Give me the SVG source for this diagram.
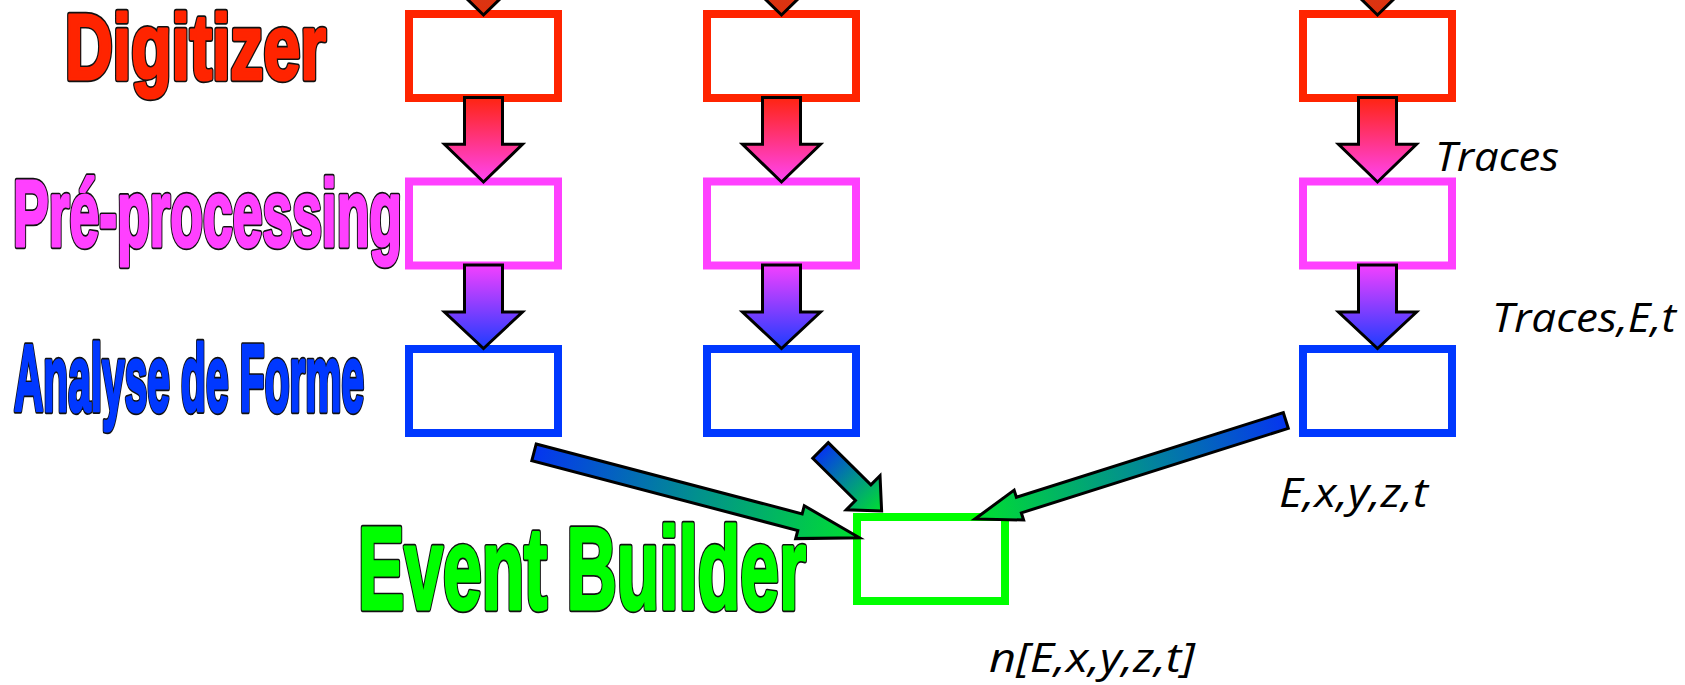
<svg xmlns="http://www.w3.org/2000/svg" width="1685" height="685" viewBox="0 0 1685 685">
  <defs>
    <style>
      .box { fill: #ffffff; stroke-width: 8; }
      .red { stroke: #ff2400; }
      .pink { stroke: #ff40ff; }
      .blue { stroke: #0038ff; }
      .green { stroke: #00ff00; }
      .arrow { stroke: #000000; stroke-width: 3; stroke-linejoin: miter; }
      .title { font-family: "Liberation Sans", Arial, sans-serif; font-weight: bold; stroke-linejoin: round; }
      .title .ol { fill: #111111; stroke: #111111; stroke-width: 6.5; }
      .title .fc { stroke-width: 3.2; }
      .note { font-family: "Open Sans", "Noto Sans", sans-serif; font-style: italic; font-size: 41px; fill: #000000; }
    </style>
    <linearGradient id="gTop" x1="0" y1="0" x2="0" y2="1">
      <stop offset="0" stop-color="#b84a30"/>
      <stop offset="1" stop-color="#e2300c"/>
    </linearGradient>
    <linearGradient id="gRedPink" x1="0" y1="0" x2="0" y2="1">
      <stop offset="0" stop-color="#ff2410"/>
      <stop offset="1" stop-color="#ff44f4"/>
    </linearGradient>
    <linearGradient id="gPinkBlue" x1="0" y1="0" x2="0" y2="1">
      <stop offset="0" stop-color="#f440ff"/>
      <stop offset="1" stop-color="#1c3cff"/>
    </linearGradient>
    <linearGradient id="gBlueGreen" x1="0" y1="0" x2="1" y2="0">
      <stop offset="0" stop-color="#0535f0"/>
      <stop offset="0.5" stop-color="#02908e"/>
      <stop offset="1" stop-color="#00e030"/>
    </linearGradient>
  </defs>

  <!-- stage labels: a dark outline layer under a thickened coloured layer -->
  <g id="label-digitizer" class="title" font-size="92">
    <text class="ol" x="65" y="79" textLength="261" lengthAdjust="spacingAndGlyphs">Digitizer</text>
    <text class="fc" x="65" y="79" textLength="261" lengthAdjust="spacingAndGlyphs" fill="#ff2400" stroke="#ff2400">Digitizer</text>
  </g>
  <g id="label-preprocessing" class="title" font-size="94">
    <text class="ol" x="13" y="246" textLength="389" lengthAdjust="spacingAndGlyphs">Pré-processing</text>
    <text class="fc" x="13" y="246" textLength="389" lengthAdjust="spacingAndGlyphs" fill="#ff40ff" stroke="#ff40ff">Pré-processing</text>
  </g>
  <g id="label-analyse" class="title" font-size="94">
    <text class="ol" x="14" y="411" textLength="350" lengthAdjust="spacingAndGlyphs">Analyse de Forme</text>
    <text class="fc" x="14" y="411" textLength="350" lengthAdjust="spacingAndGlyphs" fill="#0038ff" stroke="#0038ff">Analyse de Forme</text>
  </g>
  <g id="label-event-builder" class="title" font-size="116">
    <text class="ol" x="358" y="609" textLength="448" lengthAdjust="spacingAndGlyphs">Event Builder</text>
    <text class="fc" x="358" y="609" textLength="448" lengthAdjust="spacingAndGlyphs" fill="#00ff00" stroke="#00ff00">Event Builder</text>
  </g>

  <!-- channel 1 -->
  <g id="digitizer-1"><rect class="box red" x="409" y="14" width="149" height="84"/></g>
  <g id="preproc-1"><rect class="box pink" x="409" y="181.5" width="149" height="84"/></g>
  <g id="analyse-1"><rect class="box blue" x="409" y="349" width="149" height="84"/></g>

  <!-- channel 2 -->
  <g id="digitizer-2"><rect class="box red" x="707" y="14" width="149" height="84"/></g>
  <g id="preproc-2"><rect class="box pink" x="707" y="181.5" width="149" height="84"/></g>
  <g id="analyse-2"><rect class="box blue" x="707" y="349" width="149" height="84"/></g>

  <!-- channel 3 -->
  <g id="digitizer-3"><rect class="box red" x="1303" y="14" width="149" height="84"/></g>
  <g id="preproc-3"><rect class="box pink" x="1303" y="181.5" width="149" height="84"/></g>
  <g id="analyse-3"><rect class="box blue" x="1303" y="349" width="149" height="84"/></g>

  <!-- event builder -->
  <g id="event-builder"><rect class="box green" x="857" y="517" width="148" height="84"/></g>

  <!-- data annotations -->
  <g id="note-traces"><text class="note" x="1435" y="171" textLength="124" lengthAdjust="spacingAndGlyphs">Traces</text></g>
  <g id="note-traces-e-t"><text class="note" x="1492" y="332" textLength="184" lengthAdjust="spacingAndGlyphs">Traces,E,t</text></g>
  <g id="note-exyzt"><text class="note" x="1279" y="507" textLength="149" lengthAdjust="spacingAndGlyphs">E,x,y,z,t</text></g>
  <g id="note-event"><text class="note" x="989" y="672" textLength="206" lengthAdjust="spacingAndGlyphs">n[E,x,y,z,t]</text></g>

  <!-- connectors -->
  <g id="connectors">
    <!-- incoming arrows, cut by the top edge -->
    <path class="arrow" fill="url(#gTop)" d="M464.5,-70 H502.5 V-23 H522.5 L483.5,15 L444.5,-23 H464.5 Z"/>
    <path class="arrow" fill="url(#gTop)" d="M762.5,-70 H800.5 V-23 H820.5 L781.5,15 L742.5,-23 H762.5 Z"/>
    <path class="arrow" fill="url(#gTop)" d="M1358.5,-70 H1396.5 V-23 H1416.5 L1377.5,15 L1338.5,-23 H1358.5 Z"/>

    <!-- digitizer to pre-processing -->
    <path class="arrow" fill="url(#gRedPink)" d="M464.5,97.5 H502.5 V144.3 H522.5 L483.5,182 L444.5,144.3 H464.5 Z"/>
    <path class="arrow" fill="url(#gRedPink)" d="M762.5,97.5 H800.5 V144.3 H820.5 L781.5,182 L742.5,144.3 H762.5 Z"/>
    <path class="arrow" fill="url(#gRedPink)" d="M1358.5,97.5 H1396.5 V144.3 H1416.5 L1377.5,182 L1338.5,144.3 H1358.5 Z"/>

    <!-- pre-processing to shape analysis -->
    <path class="arrow" fill="url(#gPinkBlue)" d="M464.5,265 H502.5 V312 H522.5 L483.5,348.5 L444.5,312 H464.5 Z"/>
    <path class="arrow" fill="url(#gPinkBlue)" d="M762.5,265 H800.5 V312 H820.5 L781.5,348.5 L742.5,312 H762.5 Z"/>
    <path class="arrow" fill="url(#gPinkBlue)" d="M1358.5,265 H1396.5 V312 H1416.5 L1377.5,348.5 L1338.5,312 H1358.5 Z"/>

    <!-- shape analysis to event builder -->
    <path class="arrow" fill="url(#gBlueGreen)" transform="translate(534 452.3) rotate(14.72)" d="M0,-8.6 L275,-8.6 L275,-17 L336.5,0 L275,17 L275,8.6 L0,8.6 Z"/>
    <path class="arrow" fill="url(#gBlueGreen)" transform="translate(820.5 450.5) rotate(44.7)" d="M0,-11 L60,-11 L60,-24 L86,0 L60,24 L60,11 L0,11 Z"/>
    <path class="arrow" fill="url(#gBlueGreen)" transform="translate(1285.8 420.5) rotate(162.42)" d="M0,-8.2 L280,-8.2 L280,-15.7 L326,0 L280,15.7 L280,8.2 L0,8.2 Z"/>
  </g>
</svg>
